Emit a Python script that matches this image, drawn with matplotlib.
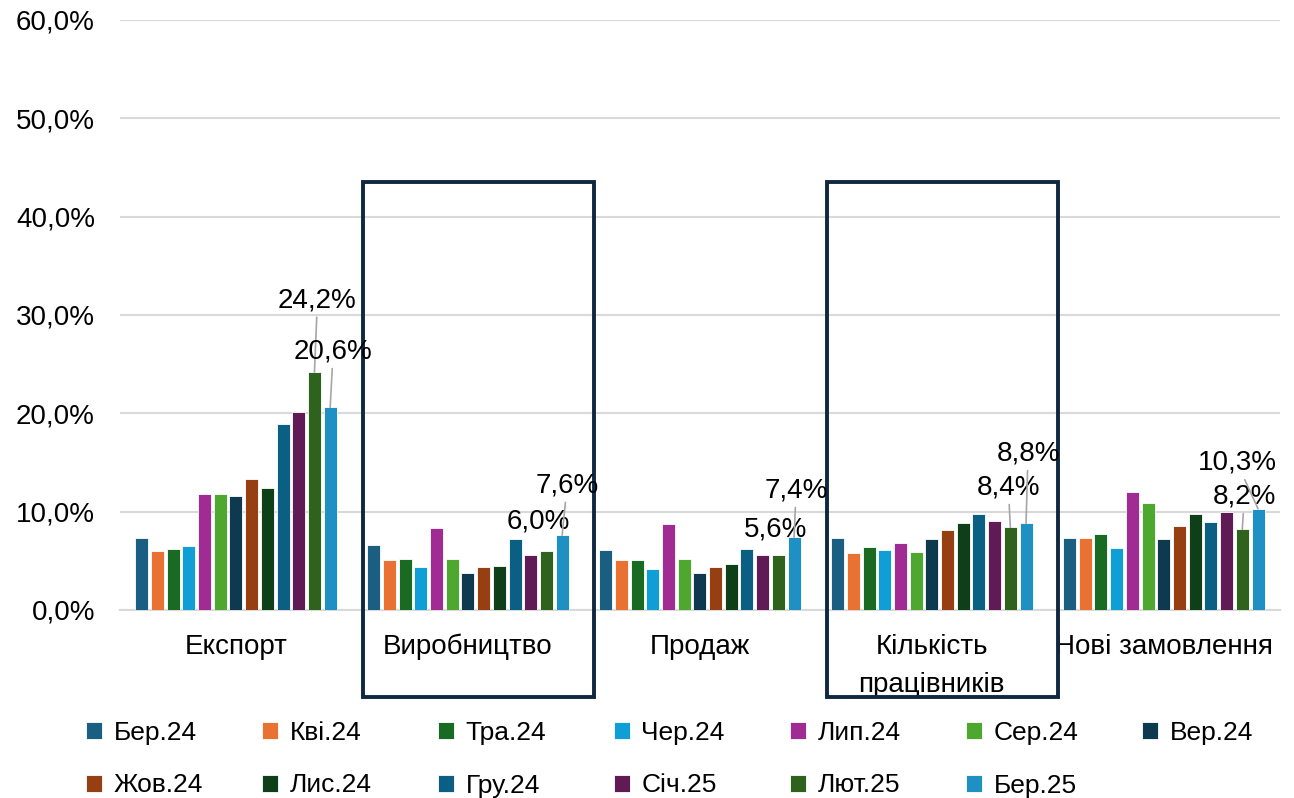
import numpy as np
import matplotlib
matplotlib.use("Agg")
import matplotlib.pyplot as plt
from matplotlib.patches import Rectangle

plt.rcParams['font.family'] = ['Liberation Sans', 'DejaVu Sans']

# Data
categories = ["Експорт", "Виробництво", "Продаж", "Кількість\nпрацівників", "Нові замовлення"]
months = ["Бер.24", "Кві.24", "Тра.24", "Чер.24", "Лип.24", "Сер.24", "Вер.24",
          "Жов.24", "Лис.24", "Гру.24", "Січ.25", "Лют.25", "Бер.25"]
values = [
    [7.3, 6.0, 6.2, 6.5, 11.8, 11.8, 11.6, 13.3, 12.4, 18.9, 20.1, 24.2, 20.6],
    [6.6, 5.1, 5.2, 4.4, 8.3, 5.2, 3.8, 4.4, 4.5, 7.2, 5.6, 6.0, 7.6],
    [6.1, 5.1, 5.1, 4.2, 8.7, 5.2, 3.8, 4.4, 4.7, 6.2, 5.6, 5.6, 7.4],
    [7.3, 5.8, 6.4, 6.1, 6.8, 5.9, 7.2, 8.1, 8.8, 9.8, 9.0, 8.4, 8.8],
    [7.3, 7.3, 7.7, 6.3, 12.0, 10.9, 7.2, 8.5, 9.8, 8.9, 10.0, 8.2, 10.3],
]
colors = ["#1a5f82", "#e97132", "#196b24", "#0f9ed5", "#a02b93", "#4ea72e", "#0e3a50",
          "#953f12", "#0f3f18", "#0b5f82", "#601a55", "#2f621d", "#1e90c4"]

# labelled bars: (group, month index, dx px, dy px, leader line)
labels = [(0, 11, 3, 72, True), (0, 12, 3, 56, True),
          (1, 11, -8, 29, False), (1, 12, 5, 50, True),
          (2, 11, -3, 25, False), (2, 12, 2, 47, True),
          (3, 11, -2, 40, True), (3, 12, 2, 70, True),
          (4, 11, 2, 33, True), (4, 12, -21, 46, True)]

vals = np.array(values) / 100.0
x = np.arange(len(categories))
step = 0.0677
width = 0.056

fig = plt.figure(figsize=(12.94, 7.98), dpi=100)
ax = fig.add_axes([0.0927, 0.2356, 0.8963, 0.7394])

bars = []
for j, m in enumerate(months):
    b = ax.bar(x + (j - 6) * step, vals[:, j], width, color=colors[j], label=m,
               edgecolor="white", linewidth=0.6, zorder=3)
    bars.append(b)

ax.set_ylim(0, 0.6)
ax.set_xlim(-0.5, len(categories) - 0.5)
ticks = np.arange(0, 0.61, 0.1)
ax.set_yticks(ticks)
ax.set_yticklabels([f"{v*100:.1f}%".replace(".", ",") for v in ticks])
ax.yaxis.grid(True, color="#d9d9d9", lw=1.5, zorder=0)
ax.set_axisbelow(True)
for s in ["top", "right", "left"]:
    ax.spines[s].set_visible(False)
ax.spines["bottom"].set_color("#d9d9d9")
ax.spines["bottom"].set_linewidth(1.5)
ax.tick_params(axis="both", length=0, labelsize=20, colors="black")
ax.tick_params(axis="y", pad=18)
ax.tick_params(axis="x", pad=17)
ax.set_xticks(x)
ax.set_xticklabels(categories, linespacing=1.6)

for g, j, dx, dy, line in labels:
    xb = x[g] + (j - 6) * step
    yb = vals[g, j]
    ap = dict(arrowstyle="-", color="#a6a6a6", lw=1.2, shrinkA=1, shrinkB=0) if line else None
    ax.annotate(f"{values[g][j]:.1f}%".replace(".", ","), xy=(xb, yb),
                xytext=(dx, dy), textcoords="offset pixels",
                ha="center", va="center", fontsize=20, zorder=7,
                arrowprops=ap)

# highlight boxes
for g in [1, 3]:
    ax.add_patch(Rectangle((g - 0.453, -0.088), 0.995, 0.523, fill=False,
                           edgecolor="#0e2841", lw=2.8, clip_on=False, zorder=6))

# legend: one small legend per column, evenly spaced
for c in range(7):
    idx = [i for i in (c, c + 7) if i < len(months)]
    fig.legend([bars[i] for i in idx], [months[i] for i in idx],
               loc="upper left", bbox_to_anchor=(86 / 1294 + c * 176 / 1294, 1 - 721 / 798),
               frameon=False, borderpad=0, borderaxespad=0,
               handlelength=0.62, handleheight=0.62, handletextpad=0.42,
               labelspacing=1.08, fontsize=19)

fig.savefig("out.png", dpi=100)
